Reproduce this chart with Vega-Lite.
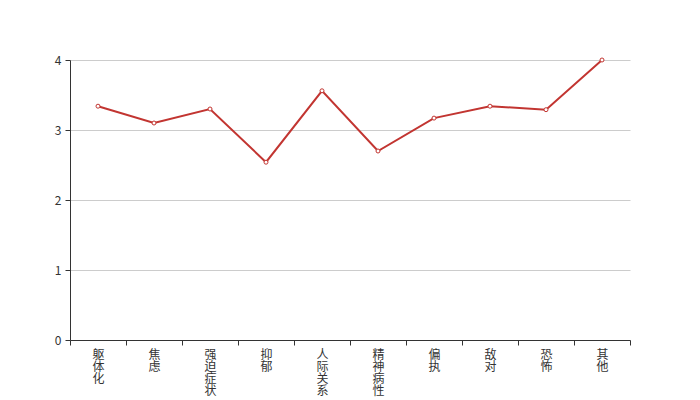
{
  "$schema": "https://vega.github.io/schema/vega-lite/v6.json",
  "width": 560,
  "height": 280,
  "autosize": {"type": "none"},
  "padding": {"left": 70, "top": 60, "right": 70, "bottom": 60},
  "background": "white",
  "config": {"view": {"stroke": null}, "font": "Noto Sans CJK SC"},
  "data": {"values": [
    {"factor": "躯体化", "score": 3.34},
    {"factor": "焦虑", "score": 3.10},
    {"factor": "强迫症状", "score": 3.30},
    {"factor": "抑郁", "score": 2.54},
    {"factor": "人际关系", "score": 3.56},
    {"factor": "精神病性", "score": 2.70},
    {"factor": "偏执", "score": 3.17},
    {"factor": "敌对", "score": 3.34},
    {"factor": "恐怖", "score": 3.29},
    {"factor": "其他", "score": 4.0}
  ]},
  "encoding": {
    "x": {"field": "factor", "type": "nominal", "sort": null, "title": null,
      "scale": {"paddingInner": 0, "paddingOuter": 0},
      "axis": {"labelAngle": 0, "labelExpr": "isString(datum.value) ? split(datum.value, '') : ''", "labelLineHeight": 12, "labelFontSize": 12,
        "labelColor": "#333", "domainColor": "#333", "tickColor": "#333", "tickBand": "extent", "tickSize": 5,
        "labelPadding": 4, "labelBaseline": "top", "grid": false, "labelOverlap": false}},
    "y": {"field": "score", "type": "quantitative", "title": null,
      "scale": {"domain": [0, 4], "nice": false},
      "axis": {"values": [0, 1, 2, 3, 4], "labelColor": "#333", "labelFontSize": 12, "domainColor": "#333",
        "tickColor": "#333", "tickSize": 5, "labelPadding": 4, "gridColor": "#ccc", "domain": true, "labelOverlap": false}}
  },
  "layer": [
    {"mark": {"type": "line", "color": "#c23531", "strokeWidth": 2}},
    {"mark": {"type": "point", "shape": "circle", "filled": true, "fill": "white", "stroke": "#c23531", "strokeWidth": 1, "size": 16, "opacity": 1}}
  ]
}
